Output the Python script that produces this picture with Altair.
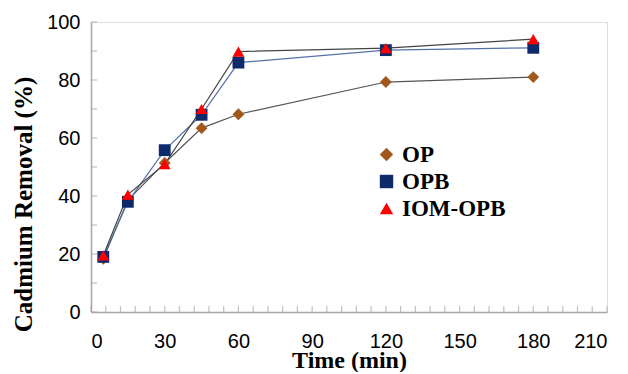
import altair as alt
import pandas as pd

time_min = [5, 15, 30, 45, 60, 120, 180]
op = [18.3, 38.6, 51.4, 63.4, 68.2, 79.3, 81.0]
opb = [19.0, 38.0, 55.8, 68.0, 86.0, 90.3, 91.1]
iom_opb = [19.5, 40.5, 51.0, 70.0, 89.8, 91.0, 94.1]

series = ["OP", "OPB", "IOM-OPB"]
marker_colors = ["#A0581C", "#0E2A6A", "#FF0000"]
line_colors = ["#555555", "#5572A8", "#444444"]
shapes = ["diamond", "square", "triangle-up"]

x_labels = [0, 30, 60, 90, 120, 150, 180, 210]
x_ticks = [0, 6, 12, 18, 24, 30, 36, 42, 48, 54, 60, 66, 72, 78, 84, 90, 96, 102,
           108, 114, 120, 126, 132, 138, 144, 150, 156, 162, 168, 174, 180, 186,
           192, 198, 204, 210]
y_labels = [0, 20, 40, 60, 80, 100]
y_ticks = [0, 10, 20, 30, 40, 50, 60, 70, 80, 90, 100]

rows = []
for name, vals in zip(series, [op, opb, iom_opb]):
    for t, v in zip(time_min, vals):
        rows.append({"time": t, "removal": v, "series": name, "line": name + " line"})
df = pd.DataFrame(rows)

xscale = alt.Scale(domain=[0, 210], nice=False, zero=False)
yscale = alt.Scale(domain=[0, 100], nice=False)

x_enc = alt.X("time:Q", scale=xscale,
              axis=alt.Axis(values=x_labels, ticks=False, tickSize=0, grid=False,
                            labelFont="Liberation Sans", labelFontSize=20,
                            labelColor="black", labelPadding=19,
                            domainColor="#A6A6A6", domainWidth=1.5,
                            title="Time (min)", titleFont="Liberation Serif",
                            titleFontSize=24, titleFontWeight="bold",
                            titleColor="black", titleBaseline="alphabetic",
                            titleY=55))
y_enc = alt.Y("removal:Q", scale=yscale,
              axis=alt.Axis(values=y_labels, ticks=False, tickSize=0, grid=False,
                            labelFont="Liberation Sans", labelFontSize=20,
                            labelColor="black", labelPadding=11,
                            domainColor="#A6A6A6", domainWidth=1.5,
                            title="Cadmium Removal (%)", titleFont="Liberation Serif",
                            titleFontSize=25, titleFontWeight="bold",
                            titleColor="black", titleAngle=270,
                            titleBaseline="alphabetic", titleAlign="center",
                            titleX=-60, titleY=182))

line_domain = [s + " line" for s in series]
lines = alt.Chart(df).mark_line(strokeWidth=1.2).encode(
    x=x_enc, y=y_enc,
    stroke=alt.Stroke("line:N", scale=alt.Scale(domain=line_domain, range=line_colors), legend=None),
)

points = alt.Chart(df).mark_point(filled=True, opacity=1, strokeWidth=0, size=140).encode(
    x="time:Q", y="removal:Q",
    fill=alt.Fill("series:N", scale=alt.Scale(domain=series, range=marker_colors),
                  legend=alt.Legend(title=None, orient="none", legendX=284, legendY=121,
                                    labelFont="Liberation Serif", labelFontSize=23,
                                    labelFontWeight="bold", labelColor="black",
                                    symbolSize=180, rowPadding=3, labelOffset=4,
                                    symbolStrokeWidth=0)),
    shape=alt.Shape("series:N", scale=alt.Scale(domain=series, range=shapes)),
)

ytick_df = pd.DataFrame({"v": y_ticks, "x0": [0] * len(y_ticks)})
xtick_df = pd.DataFrame({"v": x_ticks, "y0": [0] * len(x_ticks)})

yticks = alt.Chart(ytick_df).mark_tick(orient="horizontal", size=6, thickness=1.2,
                                       xOffset=3, color="#A6A6A6").encode(
    x=alt.X("x0:Q", scale=xscale), y=alt.Y("v:Q", scale=yscale))
xticks = alt.Chart(xtick_df).mark_tick(orient="vertical", size=6, thickness=1.2,
                                       yOffset=-3, color="#A6A6A6").encode(
    x=alt.X("v:Q", scale=xscale), y=alt.Y("y0:Q", scale=yscale))

chart = alt.layer(yticks, xticks, lines, points).properties(
    width=516, height=290,
    autosize=alt.AutoSizeParams(type="none"),
    padding={"left": 83, "top": 14, "right": 5, "bottom": 60},
).configure_view(stroke=None).configure(background="white")

chart.save("out.html", embed_options={"renderer": "svg", "actions": False})
